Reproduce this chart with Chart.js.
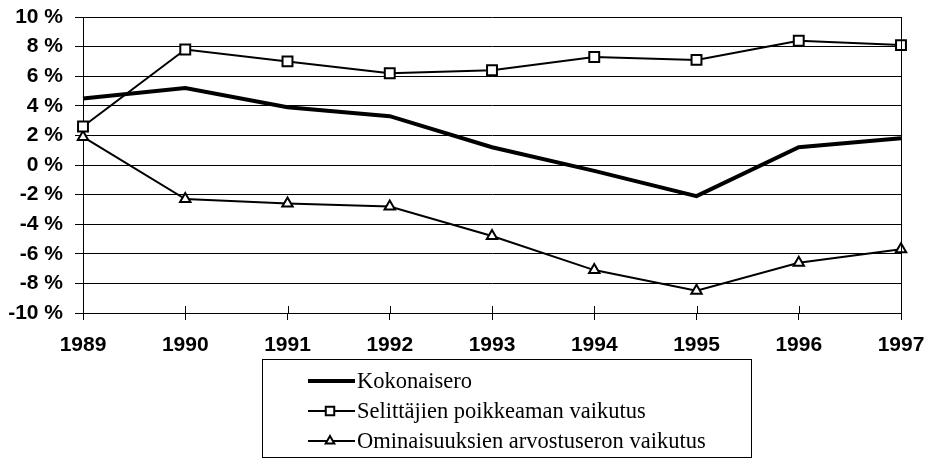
<!DOCTYPE html>
<html>
<head>
<meta charset="utf-8">
<script src="https://cdn.jsdelivr.net/npm/chart.js@4/dist/chart.umd.min.js"></script>
<style>
  html, body { margin: 0; padding: 0; background: #fff; }
  #wrap { width: 931px; height: 460px; }
</style>
</head>
<body>
<div id="wrap"><canvas id="c" width="931" height="460"></canvas></div>
<script>
const years = ['1989', '1990', '1991', '1992', '1993', '1994', '1995', '1996', '1997'];
const kokonaisero = [4.5, 5.2, 3.9, 3.3, 1.2, -0.4, -2.1, 1.2, 1.8];
const selittajien = [2.6, 7.8, 7.0, 6.2, 6.4, 7.3, 7.1, 8.4, 8.1];
const ominaisuuksien = [1.9, -2.3, -2.6, -2.8, -4.8, -7.1, -8.5, -6.6, -5.7];
const seriesNames = ['Kokonaisero', 'Selittäjien poikkeaman vaikutus', 'Ominaisuuksien arvostuseron vaikutus'];
const yMin = -10, yMax = 10, yStep = 2;

const tickFont = { family: '"Liberation Sans", Arial, sans-serif', size: 21, weight: 'bold' };

const crossTicks = {
  id: 'crossTicks',
  afterDatasetsDraw(chart) {
    const ctx = chart.ctx, xs = chart.scales.x, ca = chart.chartArea;
    ctx.save();
    ctx.strokeStyle = '#000';
    ctx.lineWidth = 1;
    for (let i = 0; i < xs.ticks.length; i++) {
      const px = Math.round(xs.getPixelForTick(i)) + 0.5;
      ctx.beginPath();
      ctx.moveTo(px, ca.bottom - 7);
      ctx.lineTo(px, ca.bottom);
      ctx.stroke();
    }
    ctx.beginPath();
    ctx.moveTo(Math.round(ca.right) + 0.5, ca.top);
    ctx.lineTo(Math.round(ca.right) + 0.5, ca.bottom + 7);
    ctx.stroke();
    ctx.restore();
  }
};

const boxLegend = {
  id: 'boxLegend',
  afterDraw(chart) {
    const ctx = chart.ctx;
    const left = 262, top = 359, right = 751, bottom = 457;
    ctx.save();
    ctx.strokeStyle = '#000';
    ctx.lineWidth = 1;
    ctx.strokeRect(left + 0.5, top + 0.5, right - left, bottom - top);
    const rows = [381, 411, 441];
    ctx.font = '22.5px "Liberation Serif", "Times New Roman", serif';
    ctx.textBaseline = 'middle';
    ctx.textAlign = 'left';
    chart.data.datasets.forEach((ds, i) => {
      const y = rows[i];
      ctx.strokeStyle = '#000';
      ctx.lineWidth = ds.borderWidth;
      ctx.beginPath();
      ctx.moveTo(308, y);
      ctx.lineTo(355, y);
      ctx.stroke();
      if (ds.pointStyle && ds.pointRadius > 0) {
        ctx.fillStyle = '#fff';
        ctx.strokeStyle = '#000';
        ctx.lineWidth = ds.pointBorderWidth;
        Chart.helpers.drawPoint(ctx, { pointStyle: ds.pointStyle, radius: ds.pointRadius - 1, borderWidth: ds.pointBorderWidth, rotation: 0 }, 330, y);
      }
      ctx.fillStyle = '#000';
      ctx.fillText(ds.label, 357, y + 1);
    });
    ctx.restore();
  }
};

new Chart(document.getElementById('c'), {
  type: 'line',
  data: {
    labels: years,
    datasets: [
      { label: seriesNames[0], data: kokonaisero, borderColor: '#000', backgroundColor: '#000', borderWidth: 4, pointRadius: 0, pointStyle: false, tension: 0 },
      { label: seriesNames[1], data: selittajien, borderColor: '#000', backgroundColor: '#fff', borderWidth: 2, pointStyle: 'rect', pointRadius: 7, pointBorderWidth: 2, pointBackgroundColor: '#fff', pointBorderColor: '#000', tension: 0 },
      { label: seriesNames[2], data: ominaisuuksien, borderColor: '#000', backgroundColor: '#fff', borderWidth: 2, pointStyle: 'triangle', pointRadius: 6, pointBorderWidth: 2, pointBackgroundColor: '#fff', pointBorderColor: '#000', tension: 0 }
    ]
  },
  options: {
    responsive: false,
    animation: false,
    layout: { padding: { left: 0, right: 30, top: 17, bottom: 100 } },
    plugins: { legend: { display: false }, tooltip: { enabled: false } },
    scales: {
      x: {
        offset: false,
        grid: { display: true, drawOnChartArea: false, drawTicks: true, tickLength: 7, color: '#000', lineWidth: 1 },
        border: { display: true, color: '#000', width: 1 },
        ticks: { font: tickFont, color: '#000', padding: 13, maxRotation: 0, autoSkip: false },
        afterFit(s) { s.height = 47; s.paddingLeft = 0; s.paddingRight = 0; }
      },
      y: {
        min: yMin, max: yMax,
        grid: { color: '#000', lineWidth: 1, tickLength: 8, drawTicks: true },
        border: { display: true, color: '#000', width: 1 },
        ticks: { stepSize: yStep, font: tickFont, color: '#000', padding: 12, callback: v => v + ' %' },
        afterFit(s) { s.width = 83; s.paddingTop = 0; s.paddingBottom = 0; }
      }
    }
  },
  plugins: [crossTicks, boxLegend]
});
</script>
</body>
</html>
